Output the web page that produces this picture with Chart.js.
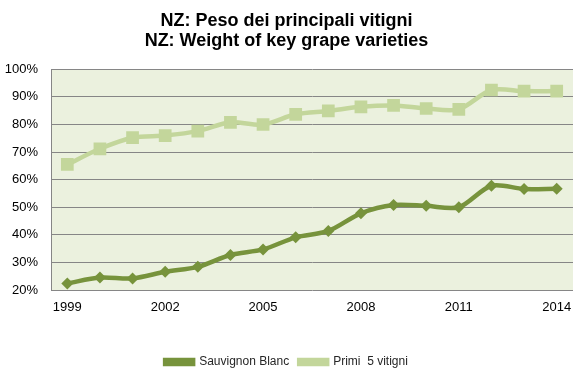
<!DOCTYPE html>
<html><head><meta charset="utf-8">
<script src="https://cdn.jsdelivr.net/npm/chart.js@4"></script>
<style>html,body{margin:0;padding:0;background:#fff}canvas{display:block}</style>
</head><body>
<canvas id="c" width="587" height="382"></canvas>
<script>
const years = ["1999","2000","2001","2002","2003","2004","2005","2006","2007","2008","2009","2010","2011","2012","2013","2014"];
const sauvignonBlanc = [22.4,24.5,24.2,26.6,28.4,32.7,34.7,39.1,41.4,47.8,50.8,50.5,50.0,57.8,56.6,56.7];
const primi5 = [65.5,71.2,75.2,76.0,77.6,80.8,80.0,83.7,84.9,86.4,86.9,85.8,85.5,92.5,92.1,92.1];
const yTicks = [20,30,40,50,60,70,80,90,100];

const bgPlugin = {
  id:'bg',
  beforeDraw(chart){
    const {ctx, chartArea:a} = chart;
    ctx.save(); ctx.fillStyle='#EBF1DE'; ctx.fillRect(a.left,a.top,a.right-a.left,a.bottom-a.top); ctx.restore();
  }
};

new Chart(document.getElementById('c'), {
  type:'line',
  data:{labels:years, datasets:[
    {label:'Sauvignon Blanc', data:sauvignonBlanc, borderColor:'#77933C', backgroundColor:'#77933C', borderWidth:4.5, pointStyle:'rectRot', pointRadius:6, pointHoverRadius:6, pointBorderWidth:0, tension:0.3},
    {label:'Primi  5 vitigni', data:primi5, borderColor:'#C3D69B', backgroundColor:'#C3D69B', borderWidth:4.5, pointStyle:'rect', pointRadius:9, pointHoverRadius:9, pointBorderWidth:0, tension:0.3}
  ]},
  options:{
    responsive:false, animation:false,
    layout:{padding:{left:0,right:14,top:0,bottom:4}},
    plugins:{
      title:{display:true, text:['NZ: Peso dei principali vitigni','NZ: Weight of key grape varieties'], color:'#000', font:{family:'"Liberation Sans",Arial', size:18, weight:'bold', lineHeight:1.12}, padding:{top:11,bottom:18}},
      legend:{position:'bottom', labels:{color:'#262626', font:{family:'"Liberation Sans",Arial', size:12}, boxWidth:28, boxHeight:4, padding:10}},
      tooltip:{enabled:false}
    },
    scales:{
      x:{offset:true, grid:{display:false, drawTicks:false}, border:{display:false},
         ticks:{color:'#000', autoSkip:false, maxRotation:0, padding:10, font:{family:'"Liberation Sans","Arial"', size:13},
           callback:function(v,i){return i%3===0?this.getLabelForValue(v):'';}},
         afterFit(s){s.height=56;}},
      y:{min:20,max:100, afterBuildTicks(s){s.ticks=yTicks.map(v=>({value:v}));},
         grid:{color:'#868686', lineWidth:1, drawTicks:false}, border:{display:true, color:'#868686', width:1},
         ticks:{color:'#000', padding:13, font:{family:'"Liberation Sans","Arial"', size:13}, callback:v=>v+'%'},
         afterFit(s){s.width=51;}}
    }
  },
  plugins:[bgPlugin]
});
</script>
</body></html>
